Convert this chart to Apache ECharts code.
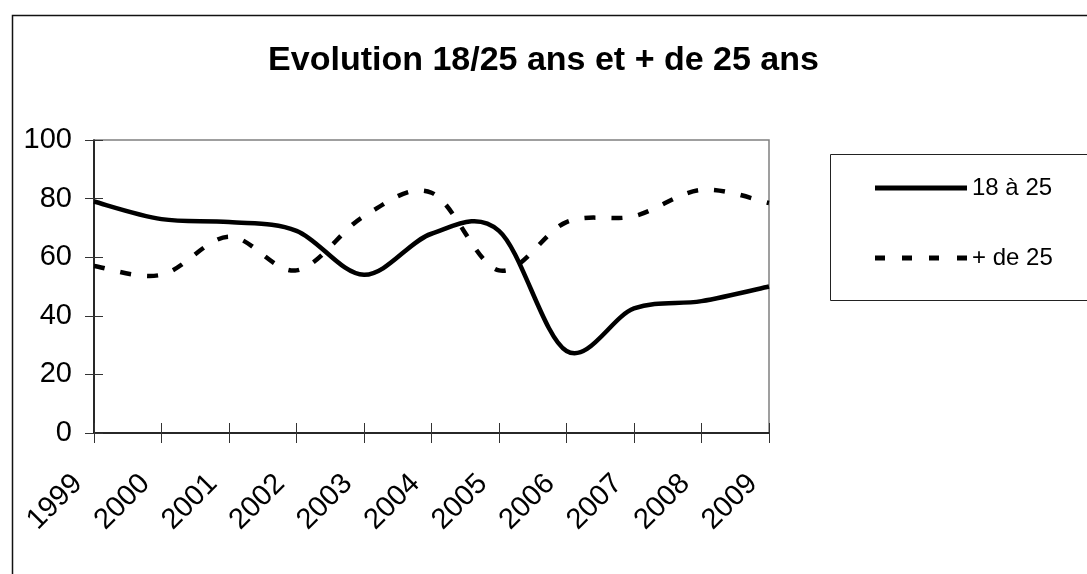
<!DOCTYPE html>
<html>
<head>
<meta charset="utf-8">
<script src="https://cdn.jsdelivr.net/npm/echarts@6/dist/echarts.min.js"></script>
<style>html,body{margin:0;padding:0;background:#fff;}#c{width:1087px;height:574px;}</style>
</head>
<body>
<div id="c"></div>
<script>
const years = ['1999','2000','2001','2002','2003','2004','2005','2006','2007','2008','2009'];
const young = [79, 73, 72, 69, 54, 68, 69, 28, 42.5, 45, 50];
const older = [57, 54, 67, 55.5, 74, 82, 55.5, 72, 74, 83, 78.5];
const yTicks = [0, 20, 40, 60, 80, 100];
const seriesNames = ['18 à 25', '+ de 25'];
const titleText = 'Evolution 18/25 ans et + de 25 ans';

const FONT = '"Liberation Sans", Arial, sans-serif';

// Excel-like smoothed line (Catmull-Rom through the data points, via the chart's own scales)
function smoothRenderer(values, dash) {
  return function (params, api) {
    if (params.dataIndex !== 0) return null;
    const pts = values.map((v, i) => api.coord([i, v]));
    const n = pts.length;
    let d = 'M' + pts[0][0] + ',' + pts[0][1];
    for (let i = 0; i < n - 1; i++) {
      const p0 = pts[Math.max(i - 1, 0)], p1 = pts[i], p2 = pts[i + 1], p3 = pts[Math.min(i + 2, n - 1)];
      const c1x = p1[0] + (p2[0] - p0[0]) / 6, c1y = p1[1] + (p2[1] - p0[1]) / 6;
      const c2x = p2[0] - (p3[0] - p1[0]) / 6, c2y = p2[1] - (p3[1] - p1[1]) / 6;
      d += ' C' + c1x + ',' + c1y + ' ' + c2x + ',' + c2y + ' ' + p2[0] + ',' + p2[1];
    }
    return {
      type: 'path',
      shape: { pathData: d },
      style: { fill: 'none', stroke: '#000', lineWidth: 4.5, lineDash: dash, lineCap: 'butt', lineJoin: 'round' },
      silent: true
    };
  };
}

const chart = echarts.init(document.getElementById('c'));
chart.setOption({
  animation: false,
  backgroundColor: '#fff',
  title: {
    text: titleText, left: 'center', top: 39,
    textStyle: { fontFamily: FONT, fontSize: 34, fontWeight: 'bold', color: '#000' }
  },
  legend: {
    orient: 'vertical', left: 875, top: 176, padding: 0,
    itemWidth: 92, itemHeight: 5, itemGap: 46,
    textStyle: { fontFamily: FONT, fontSize: 24, color: '#000' },
    data: [
      { name: seriesNames[0], icon: 'path://M0,0h92v5h-92z' },
      { name: seriesNames[1], icon: 'path://M0,0h10v5h-10zM27,0h10v5h-10zM54,0h10v5h-10zM82,0h10v5h-10z' }
    ]
  },
  grid: { left: 94, top: 140, right: 318, bottom: 141, show: true, borderColor: '#808080', borderWidth: 1.5, containLabel: false },
  xAxis: [{
    type: 'category', data: years, boundaryGap: false, position: 'bottom',
    axisLine: { lineStyle: { color: '#000', width: 1.5 } },
    axisTick: { show: true, length: 10, lineStyle: { color: '#333', width: 1 } },
    axisLabel: { fontFamily: FONT, fontSize: 29, color: '#000', rotate: 45, margin: 30, padding: [0, 23, 0, 0], interval: 0 }
  }, {
    type: 'category', data: years, boundaryGap: false, position: 'bottom',
    axisLine: { show: false },
    axisTick: { show: true, inside: true, length: 10, lineStyle: { color: '#333', width: 1 } },
    axisLabel: { show: false }
  }],
  yAxis: [{
    type: 'value', min: yTicks[0], max: yTicks[yTicks.length - 1], interval: 20, position: 'left',
    splitLine: { show: false },
    axisLine: { show: true, lineStyle: { color: '#000', width: 1.5 } },
    axisTick: { show: true, length: 9, lineStyle: { color: '#333', width: 1 } },
    axisLabel: { fontFamily: FONT, fontSize: 29, color: '#000', margin: 22 }
  }, {
    type: 'value', min: yTicks[0], max: yTicks[yTicks.length - 1], interval: 20, position: 'left',
    splitLine: { show: false },
    axisLine: { show: false },
    axisTick: { show: true, inside: true, length: 9, lineStyle: { color: '#333', width: 1 } },
    axisLabel: { show: false }
  }],
  series: [{
    name: seriesNames[0], type: 'custom', coordinateSystem: 'cartesian2d',
    data: young.map((v, i) => [i, v]), encode: { x: 0, y: 1 },
    itemStyle: { color: '#000' },
    renderItem: smoothRenderer(young, null)
  }, {
    name: seriesNames[1], type: 'custom', coordinateSystem: 'cartesian2d',
    data: older.map((v, i) => [i, v]), encode: { x: 0, y: 1 },
    itemStyle: { color: '#000' },
    renderItem: smoothRenderer(older, [11, 16])
  }],
  graphic: [{
    type: 'rect', left: 10, top: 13, shape: { width: 1200, height: 700 },
    style: { fill: 'none', stroke: '#111', lineWidth: 1.5 }, silent: true
  }, {
    type: 'rect', left: 828, top: 152, shape: { width: 300, height: 146 },
    style: { fill: 'none', stroke: '#222', lineWidth: 1 }, silent: true
  }]
});
</script>
</body>
</html>
